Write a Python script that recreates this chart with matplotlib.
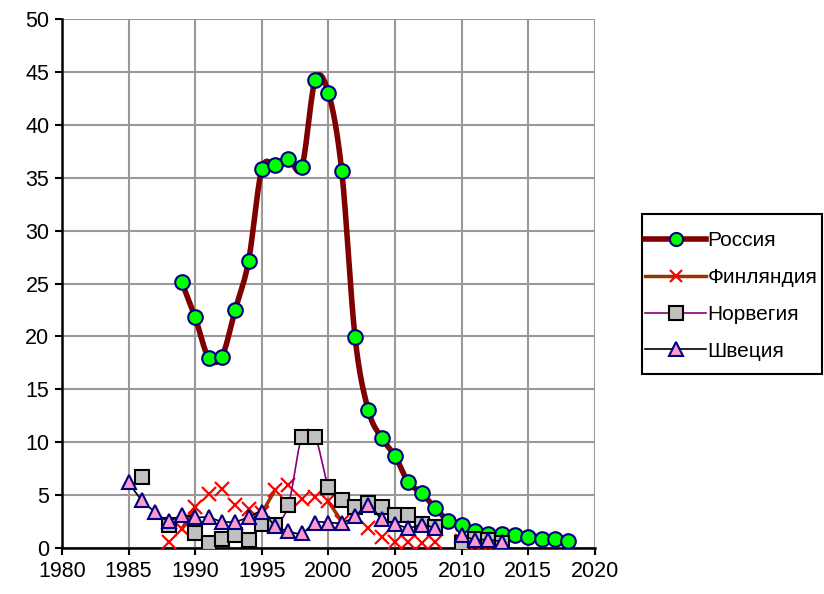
import numpy as np
import matplotlib
matplotlib.use("Agg")
import matplotlib.pyplot as plt
from matplotlib.lines import Line2D
from matplotlib.patches import Rectangle

plt.rcParams['font.family'] = ['Liberation Sans', 'DejaVu Sans']

# ---------------- data ----------------
years_russia = list(range(1989, 2019))
russia = [25.1, 21.8, 18.0, 18.1, 22.5, 27.1, 35.8, 36.2, 36.8, 36.0,
          44.2, 43.0, 35.6, 19.9, 13.0, 10.4, 8.7, 6.2, 5.2, 3.8,
          2.6, 2.2, 1.6, 1.3, 1.3, 1.2, 1.0, 0.9, 0.9, 0.7]

years_other = list(range(1985, 2014))
nan = np.nan
finland = [nan, nan, nan, 0.6, 1.8, 3.9, 5.1, 5.6, 4.1, 3.7,
           3.3, 5.5, 6.0, 4.6, 4.8, 4.4, 2.5, 3.0, 1.9, 1.0,
           0.6, 0.6, 0.5, 0.6, nan, 0.7, 0.3, 0.2, 0.1]
# years where the Finland line segment (to the next year) is visible
finland_line_starts = [1989, 1995, 2000]
norway = [nan, 6.7, nan, 2.2, nan, 1.4, 0.5, 0.9, 1.2, 0.8,
          2.3, 2.2, 4.1, 10.5, 10.5, 5.8, 4.5, 3.9, 4.3, 3.9,
          3.1, 3.1, 2.3, 2.0, nan, 0.5, 0.9, 0.8, 0.5]
sweden = [6.2, 4.5, 3.4, 2.6, 3.1, 2.9, 2.9, 2.5, 2.5, 2.9,
          3.4, 2.1, 1.6, 1.4, 2.4, 2.4, 2.4, 3.0, 4.1, 2.7,
          2.3, 1.9, 2.2, 1.9, nan, 1.2, 0.8, 0.8, 0.6]

labels = ['Россия', 'Финляндия', 'Норвегия', 'Швеция']
xticks = [1980, 1985, 1990, 1995, 2000, 2005, 2010, 2015, 2020]
yticks = [0, 5, 10, 15, 20, 25, 30, 35, 40, 45, 50]


def smooth_segments(xs, ys, n=16):
    """Excel-like smoothed line (Catmull-Rom) through each run of valid points."""
    xs = np.asarray(xs, float)
    ys = np.asarray(ys, float)
    valid = ~np.isnan(ys)
    segs = []
    i = 0
    N = len(xs)
    while i < N:
        if not valid[i]:
            i += 1
            continue
        j = i
        while j + 1 < N and valid[j + 1]:
            j += 1
        px, py = xs[i:j + 1], ys[i:j + 1]
        if len(px) >= 2:
            P = np.column_stack([px, py])
            P = np.vstack([P[0], P, P[-1]])
            out = []
            for k in range(1, len(P) - 2):
                p0, p1, p2, p3 = P[k - 1], P[k], P[k + 1], P[k + 2]
                t = np.linspace(0, 1, n, endpoint=False)[:, None]
                pt = 0.5 * ((2 * p1) + (-p0 + p2) * t +
                            (2 * p0 - 5 * p1 + 4 * p2 - p3) * t ** 2 +
                            (-p0 + 3 * p1 - 3 * p2 + p3) * t ** 3)
                out.append(pt)
            out.append(P[-2][None, :])
            out = np.vstack(out)
            segs.append((out[:, 0], out[:, 1]))
        i = j + 1
    return segs


W, H = 824, 594
fig = plt.figure(figsize=(W / 100, H / 100), dpi=100)
ax = fig.add_axes([0.0752, 0.0774, 0.6468, 0.8906])

styles = [
    dict(color='#800000', lw=4.0, marker='o', mfc='#00FF00', mec='#000080', ms=10.5, mew=1.5),
    dict(color='#993300', lw=2.5, marker='x', mfc='#FF0000', mec='#FF0000', ms=10, mew=1.6),
    dict(color='#800080', lw=1.2, marker='s', mfc='#C0C0C0', mec='#000000', ms=10.5, mew=1.5),
    dict(color='#000000', lw=1.2, marker='^', mfc='#FF99CC', mec='#000080', ms=10.5, mew=1.5),
]
series = [(years_russia, russia), (years_other, finland),
          (years_other, norway), (years_other, sweden)]

z = 3
for idx, ((xs, ys), st) in enumerate(zip(series, styles)):
    if idx == 1:
        for y0 in finland_line_starts:
            k = xs.index(y0)
            ax.plot(xs[k:k + 2], ys[k:k + 2], color=st['color'], lw=st['lw'], zorder=z)
    else:
        for sx, sy in smooth_segments(xs, ys):
            ax.plot(sx, sy, color=st['color'], lw=st['lw'], solid_capstyle='round', zorder=z)
    ax.plot(xs, ys, linestyle='none', marker=st['marker'], markerfacecolor=st['mfc'],
            markeredgecolor=st['mec'], markersize=st['ms'], markeredgewidth=st['mew'],
            zorder=z + 0.5)
    z += 1

ax.set_xlim(1980, 2020)
ax.set_ylim(0, 50)
ax.set_xticks(xticks)
ax.set_yticks(yticks)
ax.tick_params(axis='both', labelsize=15.5, direction='out', length=5, width=1.5,
               colors='black', pad=4)
ax.grid(True, color='#999999', lw=1.5)
ax.set_axisbelow(True)
for s in ['top', 'right']:
    ax.spines[s].set_visible(False)
for s in ['left', 'bottom']:
    ax.spines[s].set_linewidth(1.8)
    ax.spines[s].set_color('black')
    ax.spines[s].set_zorder(2.5)

handles = [Line2D([0], [0], color=st['color'], lw=st['lw'], marker=st['marker'],
                  markerfacecolor=st['mfc'], markeredgecolor=st['mec'],
                  markersize=st['ms'] * 0.9, markeredgewidth=st['mew'])
           for st in styles]
leg = fig.legend(handles, labels, loc='upper left', bbox_to_anchor=(645 / W, 1 - 231 / H),
                 fontsize=15, frameon=False,
                 handlelength=2.95, handletextpad=0.05, labelspacing=0.86,
                 borderpad=0.0, borderaxespad=0)
# legend frame (Excel-style: tight sides, roomier top/bottom)
fig.patches.append(Rectangle((642 / W, 1 - 374 / H), 180 / W, 160 / H,
                             transform=fig.transFigure, fill=False,
                             edgecolor='black', lw=1.5))

fig.savefig('out.png', dpi=100)
